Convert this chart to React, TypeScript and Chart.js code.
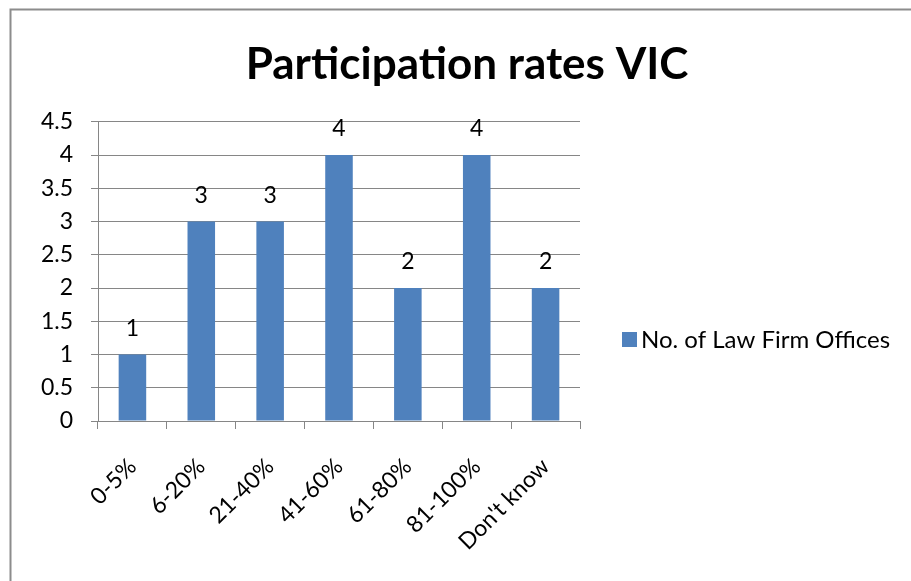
import React, { useEffect, useRef } from "react";
import { Chart, registerables } from "chart.js";

Chart.register(...registerables);

const categories = ["0-5%", "6-20%", "21-40%", "41-60%", "61-80%", "81-100%", "Don't know"];
const officeCounts = [1, 3, 3, 4, 2, 4, 2];
const seriesLabel = "No. of Law Firm Offices";
const chartTitle = "Participation rates VIC";
const yMin = 0;
const yMax = 4.5;
const yStep = 0.5;

const FONT = "Lato, 'Open Sans', sans-serif";
const BAR_COLOR = "#4F81BD";
const GRID_COLOR = "#868686";

const framePlugin = {
  id: "frame",
  beforeDraw(chart: any) {
    const ctx = chart.ctx;
    ctx.save();
    ctx.fillStyle = "#ffffff";
    ctx.fillRect(0, 0, chart.width, chart.height);
    ctx.strokeStyle = "#8c8c8c";
    ctx.lineWidth = 2;
    ctx.strokeRect(10.5, 9.5, 2000, 2000);
    ctx.restore();
  },
};

const valueLabelPlugin = {
  id: "valueLabels",
  afterDatasetsDraw(chart: any) {
    const ctx = chart.ctx;
    ctx.save();
    ctx.font = `23px ${FONT}`;
    ctx.fillStyle = "#000";
    ctx.textAlign = "center";
    ctx.textBaseline = "alphabetic";
    chart.data.datasets.forEach((ds: any, i: number) => {
      const meta = chart.getDatasetMeta(i);
      meta.data.forEach((bar: any, j: number) => {
        ctx.fillText(String(ds.data[j]), bar.x, bar.y - 19);
      });
    });
    ctx.restore();
  },
};

const legendPlugin = {
  id: "customLegend",
  afterDraw(chart: any) {
    const ctx = chart.ctx;
    const ds = chart.data.datasets[0];
    ctx.save();
    ctx.fillStyle = ds.backgroundColor;
    ctx.fillRect(622, 332, 15, 15);
    ctx.font = `24px ${FONT}`;
    ctx.fillStyle = "#000";
    ctx.textAlign = "left";
    ctx.textBaseline = "middle";
    ctx.fillText(ds.label, 641, 340);
    ctx.restore();
  },
};

export default function App() {
  const canvasRef = useRef<HTMLCanvasElement | null>(null);

  useEffect(() => {
    if (!canvasRef.current) return;
    const chart = new Chart(canvasRef.current, {
      type: "bar",
      data: {
        labels: categories,
        datasets: [
          {
            label: seriesLabel,
            data: officeCounts,
            backgroundColor: BAR_COLOR,
            barPercentage: 0.4,
            categoryPercentage: 1.0,
          },
        ],
      },
      options: {
        responsive: false,
        animation: false,
        devicePixelRatio: 1,
        layout: { padding: { left: 23, right: 0, top: 0, bottom: 0 } },
        plugins: {
          legend: { display: false },
          tooltip: { enabled: false },
          title: {
            display: true,
            text: chartTitle,
            color: "#000",
            font: { family: FONT, size: 44, weight: "bold", lineHeight: 1.2 },
            padding: { top: 38, bottom: 31 },
          },
        },
        scales: {
          x: {
            offset: true,
            grid: {
              offset: true,
              drawOnChartArea: false,
              drawTicks: true,
              tickLength: 8,
              color: GRID_COLOR,
            },
            border: { display: true, color: GRID_COLOR },
            ticks: {
              autoSkip: false,
              minRotation: 45,
              maxRotation: 45,
              padding: 24,
              color: "#000",
              font: { family: FONT, size: 23 },
            },
            afterFit: (s: any) => {
              s.height = 160;
            },
          },
          y: {
            min: yMin,
            max: yMax,
            ticks: {
              stepSize: yStep,
              padding: 18,
              color: "#000",
              font: { family: FONT, size: 23 },
              callback: (v: any) => String(Number(v)),
            },
            grid: { color: GRID_COLOR, tickLength: 7, drawTicks: true },
            border: { display: true, color: GRID_COLOR },
            afterFit: (s: any) => {
              s.width = 75;
            },
          },
          legendSpace: {
            position: "right",
            display: true,
            grid: { display: false },
            border: { display: false },
            ticks: { display: false },
            afterFit: (s: any) => {
              s.width = 331;
            },
          },
        },
      },
      plugins: [framePlugin, valueLabelPlugin, legendPlugin],
    } as any);
    return () => chart.destroy();
  }, []);

  return (
    <div style={{ position: "fixed", left: 0, top: 0, width: 911, height: 581 }}>
      <canvas ref={canvasRef} width={911} height={581} style={{ width: 911, height: 581, display: "block" }} />
    </div>
  );
}
